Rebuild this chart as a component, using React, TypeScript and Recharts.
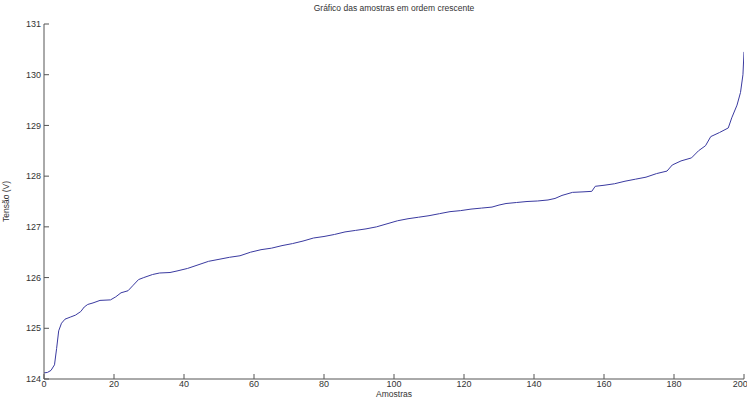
import { LineChart, Line, XAxis, YAxis, Label } from "recharts";

// sorted samples (sample index, voltage)
const amostras = [
  0, 1, 2, 3, 3.6, 4.2, 5, 6, 7.5, 9, 10.5, 11.5, 12.5, 14, 16, 19, 20.5, 22, 24,
  25.5, 27, 28.5, 31, 33, 36, 38, 41, 44, 47, 50, 53, 56, 59, 62, 65, 68, 71, 74,
  77, 80, 83, 86, 89, 92, 95, 98, 101, 104, 107, 110, 113, 116, 119, 122, 125,
  128, 130, 132, 135, 138, 141, 144, 146, 148, 151, 154, 156.5, 157.5, 160, 163,
  166, 169, 172, 175, 178, 179.5, 182, 185, 187, 189, 190.5, 193, 195.5, 196.5,
  198, 199, 199.7, 200,
];
const tensao = [
  124.12, 124.13, 124.17, 124.28, 124.6, 124.95, 125.1, 125.18, 125.22, 125.26,
  125.33, 125.42, 125.47, 125.5, 125.55, 125.56, 125.62, 125.7, 125.74, 125.85,
  125.96, 126.0, 126.06, 126.09, 126.1, 126.13, 126.18, 126.25, 126.32, 126.36,
  126.4, 126.43, 126.5, 126.55, 126.58, 126.63, 126.67, 126.72, 126.78, 126.81,
  126.85, 126.9, 126.93, 126.96, 127.0, 127.06, 127.12, 127.16, 127.19, 127.22,
  127.26, 127.3, 127.32, 127.35, 127.37, 127.39, 127.43, 127.46, 127.48, 127.5,
  127.51, 127.53, 127.56, 127.62, 127.68, 127.69, 127.7, 127.8, 127.82, 127.85,
  127.9, 127.94, 127.98, 128.05, 128.1, 128.22, 128.3, 128.36, 128.5, 128.6,
  128.78, 128.86, 128.95, 129.15, 129.4, 129.65, 130.0, 130.45,
];
const xTicks = [0, 20, 40, 60, 80, 100, 120, 140, 160, 180, 200];
const yTicks = [124, 125, 126, 127, 128, 129, 130, 131];

const data = amostras.map((x, i) => ({ x, v: tensao[i] }));

const axisColor = "#555";
const tickStyle = { fill: "#333", fontSize: 9, fontFamily: "Liberation Sans, Arial, sans-serif" };

export default function App() {
  return (
    <div style={{ position: "absolute", left: 0, top: 0, width: 747, height: 400, background: "#fff" }}>
      <div
        style={{
          position: "absolute",
          left: 44,
          width: 700,
          top: 3,
          textAlign: "center",
          fontFamily: "Liberation Sans, Arial, sans-serif",
          fontSize: 8.5,
          color: "#333",
        }}
      >
        Gráfico das amostras em ordem crescente
      </div>
      <LineChart width={747} height={400} data={data} margin={{ top: 24, right: 3, bottom: 0, left: 0 }}>
        <XAxis
          dataKey="x"
          type="number"
          domain={[0, 200]}
          ticks={xTicks}
          allowDataOverflow
          height={21}
          stroke={axisColor}
          tickSize={-5}
          tickMargin={7}
          tick={tickStyle}
        >
          <Label
            value="Amostras"
            position="insideBottom"
            offset={3}
            style={{ ...tickStyle, fontSize: 8.5 }}
          />
        </XAxis>
        <XAxis
          xAxisId="top"
          orientation="top"
          dataKey="x"
          type="number"
          domain={[0, 200]}
          ticks={xTicks}
          height={0}
          stroke={axisColor}
          tickSize={-5}
          tick={false}
        />
        <YAxis
          type="number"
          domain={[124, 131]}
          ticks={yTicks}
          width={44}
          stroke={axisColor}
          tickSize={-5}
          tickMargin={8}
          tick={tickStyle}
        >
          <Label
            value="Tensão (V)"
            angle={-90}
            position="insideLeft"
            offset={6}
            style={{ ...tickStyle, fontSize: 8.5, textAnchor: "middle" }}
          />
        </YAxis>
        <YAxis
          yAxisId="right"
          orientation="right"
          type="number"
          domain={[124, 131]}
          ticks={yTicks}
          width={0}
          stroke={axisColor}
          tickSize={-5}
          tick={false}
        />
        <Line
          dataKey="v"
          type="linear"
          stroke="#3a3aa0"
          strokeWidth={1}
          dot={false}
          isAnimationActive={false}
        />
      </LineChart>
    </div>
  );
}
